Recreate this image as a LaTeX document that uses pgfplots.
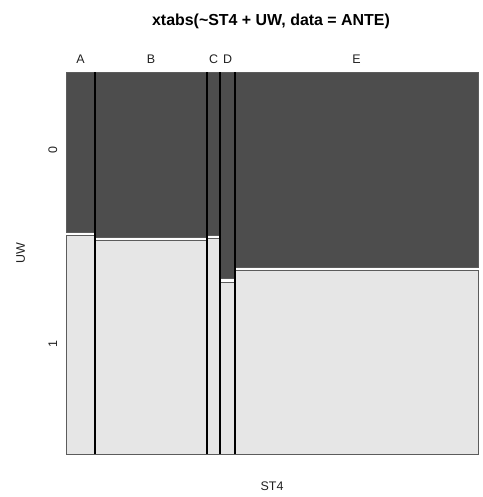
\documentclass[border=0pt]{standalone}
\usepackage{pgfplots}
\pgfplotsset{compat=1.18}
\usepackage{fontspec}
\setmainfont{Liberation Sans}
\definecolor{darkcell}{HTML}{4D4D4D}
\definecolor{lightcell}{HTML}{E6E6E6}
\definecolor{borderc}{HTML}{5C5C5C}
\definecolor{textc}{HTML}{202020}
\begin{document}
\begin{tikzpicture}
\begin{axis}[
  x=1bp, y=1bp,
  xmin=0, xmax=412, ymin=0, ymax=382,
  axis line style={draw=none},
  clip=false,
  major tick length=0pt,
  xtick={14.5,85,147.5,161.5,290.5},
  xticklabels={\mbox{A},\mbox{B},\mbox{C},\mbox{D},\mbox{E}},
  xticklabel pos=right,
  xticklabel style={anchor=base, yshift=8bp, font=\fontsize{12.5}{14}\selectfont, text=textc},
  ytick=\empty,
  every axis plot/.append style={line width=0.8bp},
]
% UW = 0 (dark)
\addplot[fill=darkcell, draw=borderc] coordinates {(0,222) (29,222) (29,382) (0,382)} -- cycle;
\addplot[fill=darkcell, draw=borderc] coordinates {(29,217) (141,217) (141,382) (29,382)} -- cycle;
\addplot[fill=darkcell, draw=borderc] coordinates {(141,219) (154,219) (154,382) (141,382)} -- cycle;
\addplot[fill=darkcell, draw=borderc] coordinates {(154,176) (169,176) (169,382) (154,382)} -- cycle;
\addplot[fill=darkcell, draw=borderc] coordinates {(169,187) (412,187) (412,382) (169,382)} -- cycle;
% UW = 1 (light)
\addplot[fill=lightcell, draw=borderc] coordinates {(0,0) (29,0) (29,219) (0,219)} -- cycle;
\addplot[fill=lightcell, draw=borderc] coordinates {(29,0) (141,0) (141,214) (29,214)} -- cycle;
\addplot[fill=lightcell, draw=borderc] coordinates {(141,0) (154,0) (154,216) (141,216)} -- cycle;
\addplot[fill=lightcell, draw=borderc] coordinates {(154,0) (169,0) (169,172) (154,172)} -- cycle;
\addplot[fill=lightcell, draw=borderc] coordinates {(169,0) (412,0) (412,184) (169,184)} -- cycle;
% column separators
\addplot[black, line width=1.8bp] coordinates {(29,0) (29,382)};
\addplot[black, line width=1.8bp] coordinates {(141,0) (141,382)};
\addplot[black, line width=1.8bp] coordinates {(154,0) (154,382)};
\addplot[black, line width=1.8bp] coordinates {(169,0) (169,382)};
% level labels of UW
\node[anchor=base, rotate=90, font=\fontsize{12.5}{14}\selectfont, text=textc] at (axis cs:-9,304) {0};
\node[anchor=base, rotate=90, font=\fontsize{12.5}{14}\selectfont, text=textc] at (axis cs:-9,109.5) {1};
\node[anchor=base, font=\fontsize{16}{18}\selectfont\bfseries] at (axis cs:205,428) {xtabs(\textasciitilde ST4 + UW, data = ANTE)};
\node[anchor=base, font=\fontsize{12.5}{14}\selectfont, text=textc] at (axis cs:206,-36) {ST4};
\node[anchor=base, rotate=90, font=\fontsize{12.5}{14}\selectfont, text=textc] at (axis cs:-41,200.5) {UW};
\coordinate (bl) at (axis cs:-66,-43);
\coordinate (tr) at (axis cs:417,454);
\end{axis}
\pgfresetboundingbox
\useasboundingbox (bl) rectangle (tr);
\end{tikzpicture}
\end{document}
